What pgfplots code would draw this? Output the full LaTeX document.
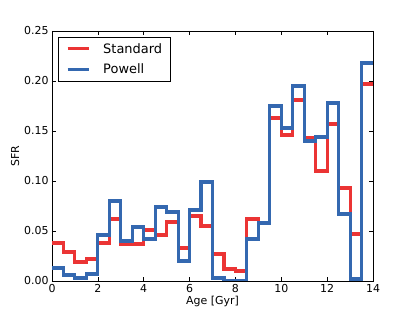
\documentclass[border=0pt]{standalone}
\usepackage{fontspec}
\setmainfont{DejaVu Sans}
\usepackage{pgfplots}
\pgfplotsset{compat=1.18}
\definecolor{cred}{RGB}{235,52,52}
\definecolor{cblue}{RGB}{52,104,176}
\begin{document}
\begin{tikzpicture}
\path[use as bounding box] (0,0) rectangle (415bp,312bp);
\begin{axis}[
  at={(52bp,31bp)}, anchor=south west,
  scale only axis, width=321bp, height=250bp,
  xmin=0, xmax=14, ymin=0, ymax=0.25,
  xtick={0,2,...,14}, ytick={0,0.05,...,0.25},
  tick align=inside, tick pos=both,
  major tick length=4bp,
  tick style={black, line width=0.5pt},
  axis line style={line width=0.6pt},
  yticklabel style={/pgf/number format/fixed, /pgf/number format/zerofill, /pgf/number format/precision=2},
  /pgf/number format/assume math mode=true,
  ticklabel style={font=\fontsize{11}{13}\selectfont},
  label style={font=\fontsize{11}{13}\selectfont},
  xlabel={Age [Gyr]}, ylabel={SFR},
  xlabel style={yshift=3bp},
  ylabel style={yshift=-2bp},
  legend style={at={(6bp,244bp)}, anchor=north west, draw=black, line width=0.5pt, font=\fontsize{13}{15}\selectfont, inner xsep=8bp, inner ysep=4bp, row sep=5bp, column sep=13bp, nodes={inner xsep=0pt, inner ysep=2bp}, cells={anchor=west}},
  legend image code/.code={\draw[#1, line width=3bp] (0bp,0bp) -- (21bp,0bp);},
  every axis plot/.append style={line width=3.1bp, line join=miter},
]
\addplot[const plot, cred] coordinates {
(0,0.038) (0.5,0.029) (1,0.019) (1.5,0.022) (2,0.038) (2.5,0.062) (3,0.037) (3.5,0.037)
(4,0.051) (4.5,0.046) (5,0.059) (5.5,0.033) (6,0.065) (6.5,0.055) (7,0.027) (7.5,0.012)
(8,0.010) (8.5,0.062) (9,0.058) (9.5,0.163) (10,0.146) (10.5,0.181) (11,0.143) (11.5,0.110)
(12,0.157) (12.5,0.093) (13,0.047) (13.5,0.197) (14,0.197)};
\addlegendentry{Standard}
\addplot[const plot, cblue] coordinates {
(0,0.013) (0.5,0.006) (1,0.003) (1.5,0.007) (2,0.046) (2.5,0.080) (3,0.040) (3.5,0.054)
(4,0.042) (4.5,0.074) (5,0.069) (5.5,0.020) (6,0.071) (6.5,0.099) (7,0.003) (7.5,0.000)
(8,0.000) (8.5,0.042) (9,0.058) (9.5,0.175) (10,0.153) (10.5,0.195) (11,0.140) (11.5,0.144)
(12,0.178) (12.5,0.067) (13,0.002) (13.5,0.218) (14,0.218)};
\addlegendentry{Powell}
\end{axis}
\end{tikzpicture}
\end{document}
